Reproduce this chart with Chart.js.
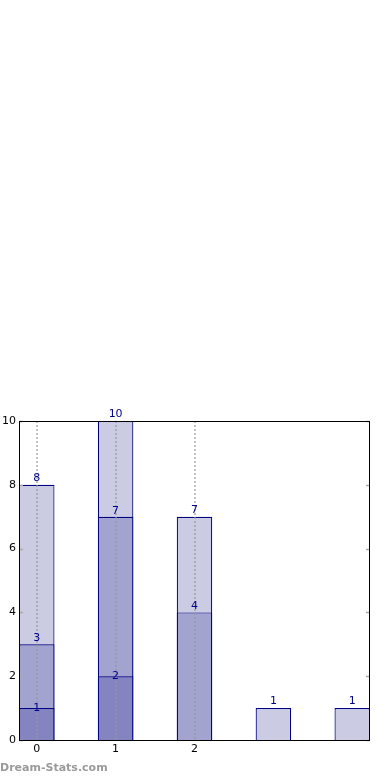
<!DOCTYPE html>
<html><head><meta charset="utf-8">
<script src="https://cdn.jsdelivr.net/npm/chart.js@4/dist/chart.umd.min.js"></script>
<style>
html,body{margin:0;padding:0;background:#fff;width:390px;height:780px;overflow:hidden;}
#wrap{position:relative;width:390px;height:780px;}
#c{position:absolute;left:0;top:0;}
#wm{position:absolute;left:0;top:761px;font:bold 11px "DejaVu Sans",sans-serif;color:#9a9a9a;line-height:13px;}
</style></head>
<body><div id="wrap"><canvas id="c" width="390" height="780"></canvas><div id="wm">Dream-Stats.com</div></div>
<script>
const categories = [0, 1, 2, 3, 4];
const tickLabels = ['0', '1', '2', '', ''];
const darkValues = [1, 2, null, null, null];
const mediumValues = [3, 7, 4, null, null];
const lightValues = [8, 10, 7, 1, 1];
const yTicks = [0, 2, 4, 6, 8, 10];

function pts(arr){ return categories.map((c,i)=>arr[i]==null?null:{x:c,y:arr[i]}).filter(p=>p); }

const framePlugin = {
  id:'frame',
  afterDatasetsDraw(chart){
    const {ctx, chartArea:a, scales} = chart;
    ctx.save();
    // vertical dotted grid lines at labelled categories (drawn over bars)
    ctx.strokeStyle = 'rgba(150,150,150,0.6)';
    ctx.lineWidth = 2;
    ctx.setLineDash([2,2]);
    categories.forEach((c,i)=>{
      if(!tickLabels[i]) return;
      const x = Math.round(scales.x.getPixelForValue(c));
      ctx.beginPath(); ctx.moveTo(x, a.top); ctx.lineTo(x, a.bottom); ctx.stroke();
    });
    ctx.setLineDash([]);
    ctx.strokeStyle = '#aaaaaa';
    ctx.lineWidth = 1.5;
    yTicks.forEach(v=>{
      const y = Math.round(scales.y.getPixelForValue(v))+0.5;
      ctx.beginPath(); ctx.moveTo(a.left, y); ctx.lineTo(a.left+4, y); ctx.stroke();
      ctx.beginPath(); ctx.moveTo(a.right-4, y); ctx.lineTo(a.right, y); ctx.stroke();
    });
    ctx.strokeStyle = '#000';
    ctx.lineWidth = 1;
    ctx.strokeRect(Math.round(a.left)+0.5, Math.round(a.top)+0.5, Math.round(a.right-a.left)-1, Math.round(a.bottom-a.top));
    // value labels
    ctx.font = '11px "DejaVu Sans", sans-serif';
    ctx.fillStyle = '#00008b';
    ctx.textAlign = 'center';
    ctx.textBaseline = 'alphabetic';
    chart.data.datasets.forEach((ds, di)=>{
      const meta = chart.getDatasetMeta(di);
      meta.data.forEach((el, i)=>{
        const v = ds.data[i].y;
        ctx.fillText(String(v), el.x, el.y + ds.labelOffset);
      });
    });
    ctx.restore();
  }
};

new Chart(document.getElementById('c'), {
  type:'bar',
  data:{
    datasets:[
      {data:pts(darkValues), backgroundColor:'#8484c1', borderColor:'#000080', borderWidth:1.2, labelOffset:3, order:1},
      {data:pts(mediumValues), backgroundColor:'#a3a3d0', borderColor:'#000080', borderWidth:1.2, labelOffset:-3, order:2},
      {data:pts(lightValues), backgroundColor:'#cbcbe4', borderColor:'#000080', borderWidth:1.2, labelOffset:-4, order:3}
    ]
  },
  options:{
    responsive:false,
    animation:false,
    events:[],
    layout:{padding:{top:421, right:20, left:0, bottom:0}},
    plugins:{legend:{display:false}, tooltip:{enabled:false}},
    datasets:{bar:{grouped:false, barPercentage:0.45, categoryPercentage:1}},
    scales:{
      x:{
        type:'linear', min:-0.225, max:4.225, offset:false,
        afterBuildTicks(s){ s.ticks = categories.map(v=>({value:v})); },
        afterFit(s){ s.height = 40; },
        grid:{display:false, drawTicks:false},
        border:{display:false},
        ticks:{
          autoSkip:false, maxRotation:0, padding:3,
          color:'#000', font:{family:'DejaVu Sans', size:11},
          callback(v){ const i = categories.indexOf(v); return i>=0 ? tickLabels[i] : ''; }
        }
      },
      y:{
        type:'linear', min:0, max:10,
        afterBuildTicks(s){ s.ticks = yTicks.map(v=>({value:v})); },
        afterFit(s){ s.width = 19; },
        grid:{display:false, drawTicks:false},
        border:{display:false},
        ticks:{padding:3, color:'#000', font:{family:'DejaVu Sans', size:11}}
      }
    }
  },
  plugins:[framePlugin]
});
</script></body></html>
